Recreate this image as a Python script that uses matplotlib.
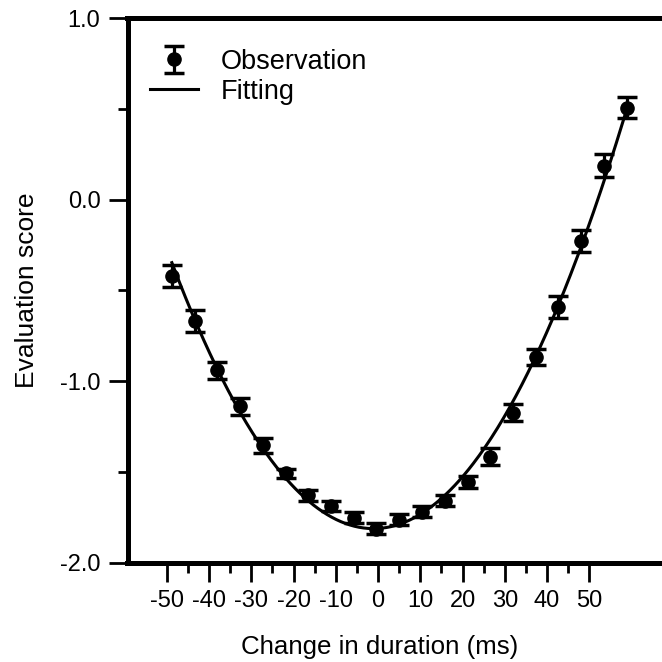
import numpy as np
import matplotlib
matplotlib.use("Agg")
from matplotlib import pyplot as plt

duration = [-48.8, -43.4, -38.0, -32.7, -27.3, -21.9, -16.5, -11.1, -5.7, -0.4,
            5.0, 10.4, 15.8, 21.2, 26.6, 32.0, 37.3, 42.7, 48.1, 53.5, 58.9]
score = [-0.42, -0.67, -0.94, -1.14, -1.355, -1.507, -1.629, -1.690, -1.753, -1.814,
         -1.765, -1.721, -1.660, -1.555, -1.416, -1.174, -0.867, -0.591, -0.23, 0.188, 0.508]
score_err = [0.062, 0.061, 0.046, 0.046, 0.04, 0.025, 0.03, 0.028, 0.03, 0.03,
             0.03, 0.03, 0.031, 0.033, 0.045, 0.046, 0.046, 0.061, 0.061, 0.062, 0.06]

xticks = [-50, -40, -30, -20, -10, 0, 10, 20, 30, 40, 50]
yticks = [1.0, 0.0, -1.0, -2.0]

plt.rcParams['font.family'] = ['Liberation Sans', 'DejaVu Sans']
plt.rcParams['axes.unicode_minus'] = False

fig = plt.figure(figsize=(6.62, 6.62), dpi=100)
ax = fig.add_axes([127.5 / 662, 1 - 562.5 / 662, 1 - 127.5 / 662, (562.5 - 18.3) / 662])

# quadratic fit of the observations
coef = np.polyfit(duration, score, 2)
xfit = np.linspace(duration[0], duration[-1], 300)
ax.plot(xfit, np.polyval(coef, xfit), color='black', lw=2.2, label='Fitting', zorder=2)

ax.errorbar(duration, score, yerr=score_err, fmt='o', color='black', ms=9.5,
            elinewidth=2.3, capsize=7, capthick=2.5, label='Observation', zorder=3)

ax.set_xlim(-59.3, 67.2)
ax.set_ylim(-2.0, 1.0)
ax.set_xticks(xticks)
ax.set_xticks(np.arange(-45, 50, 10), minor=True)
ax.set_yticks(yticks)
ax.set_yticks([0.5, -0.5, -1.5], minor=True)
ax.set_yticklabels(['%.1f' % v for v in yticks])

for side in ['left', 'top', 'bottom']:
    ax.spines[side].set_linewidth(3.6)
ax.spines['right'].set_visible(False)

ax.tick_params(which='major', direction='out', length=13.5, width=2, labelsize=17, pad=6)
ax.tick_params(which='minor', direction='out', length=7.5, width=2)
ax.tick_params(top=False, right=False, which='both')

ax.set_xlabel('Change in duration (ms)', fontsize=18.6)
ax.set_ylabel('Evaluation score', fontsize=19, labelpad=15)
ax.xaxis.set_label_coords((380 - 127.5) / 534.5, -0.134)

handles, labels = ax.get_legend_handles_labels()
ax.legend(handles[::-1], labels[::-1], loc='upper left', bbox_to_anchor=(0.042, 0.944),
          frameon=False, fontsize=19.5, borderpad=0, borderaxespad=0,
          handlelength=1.78, handletextpad=0.85, labelspacing=0.15)

fig.savefig('out.png', dpi=100)
